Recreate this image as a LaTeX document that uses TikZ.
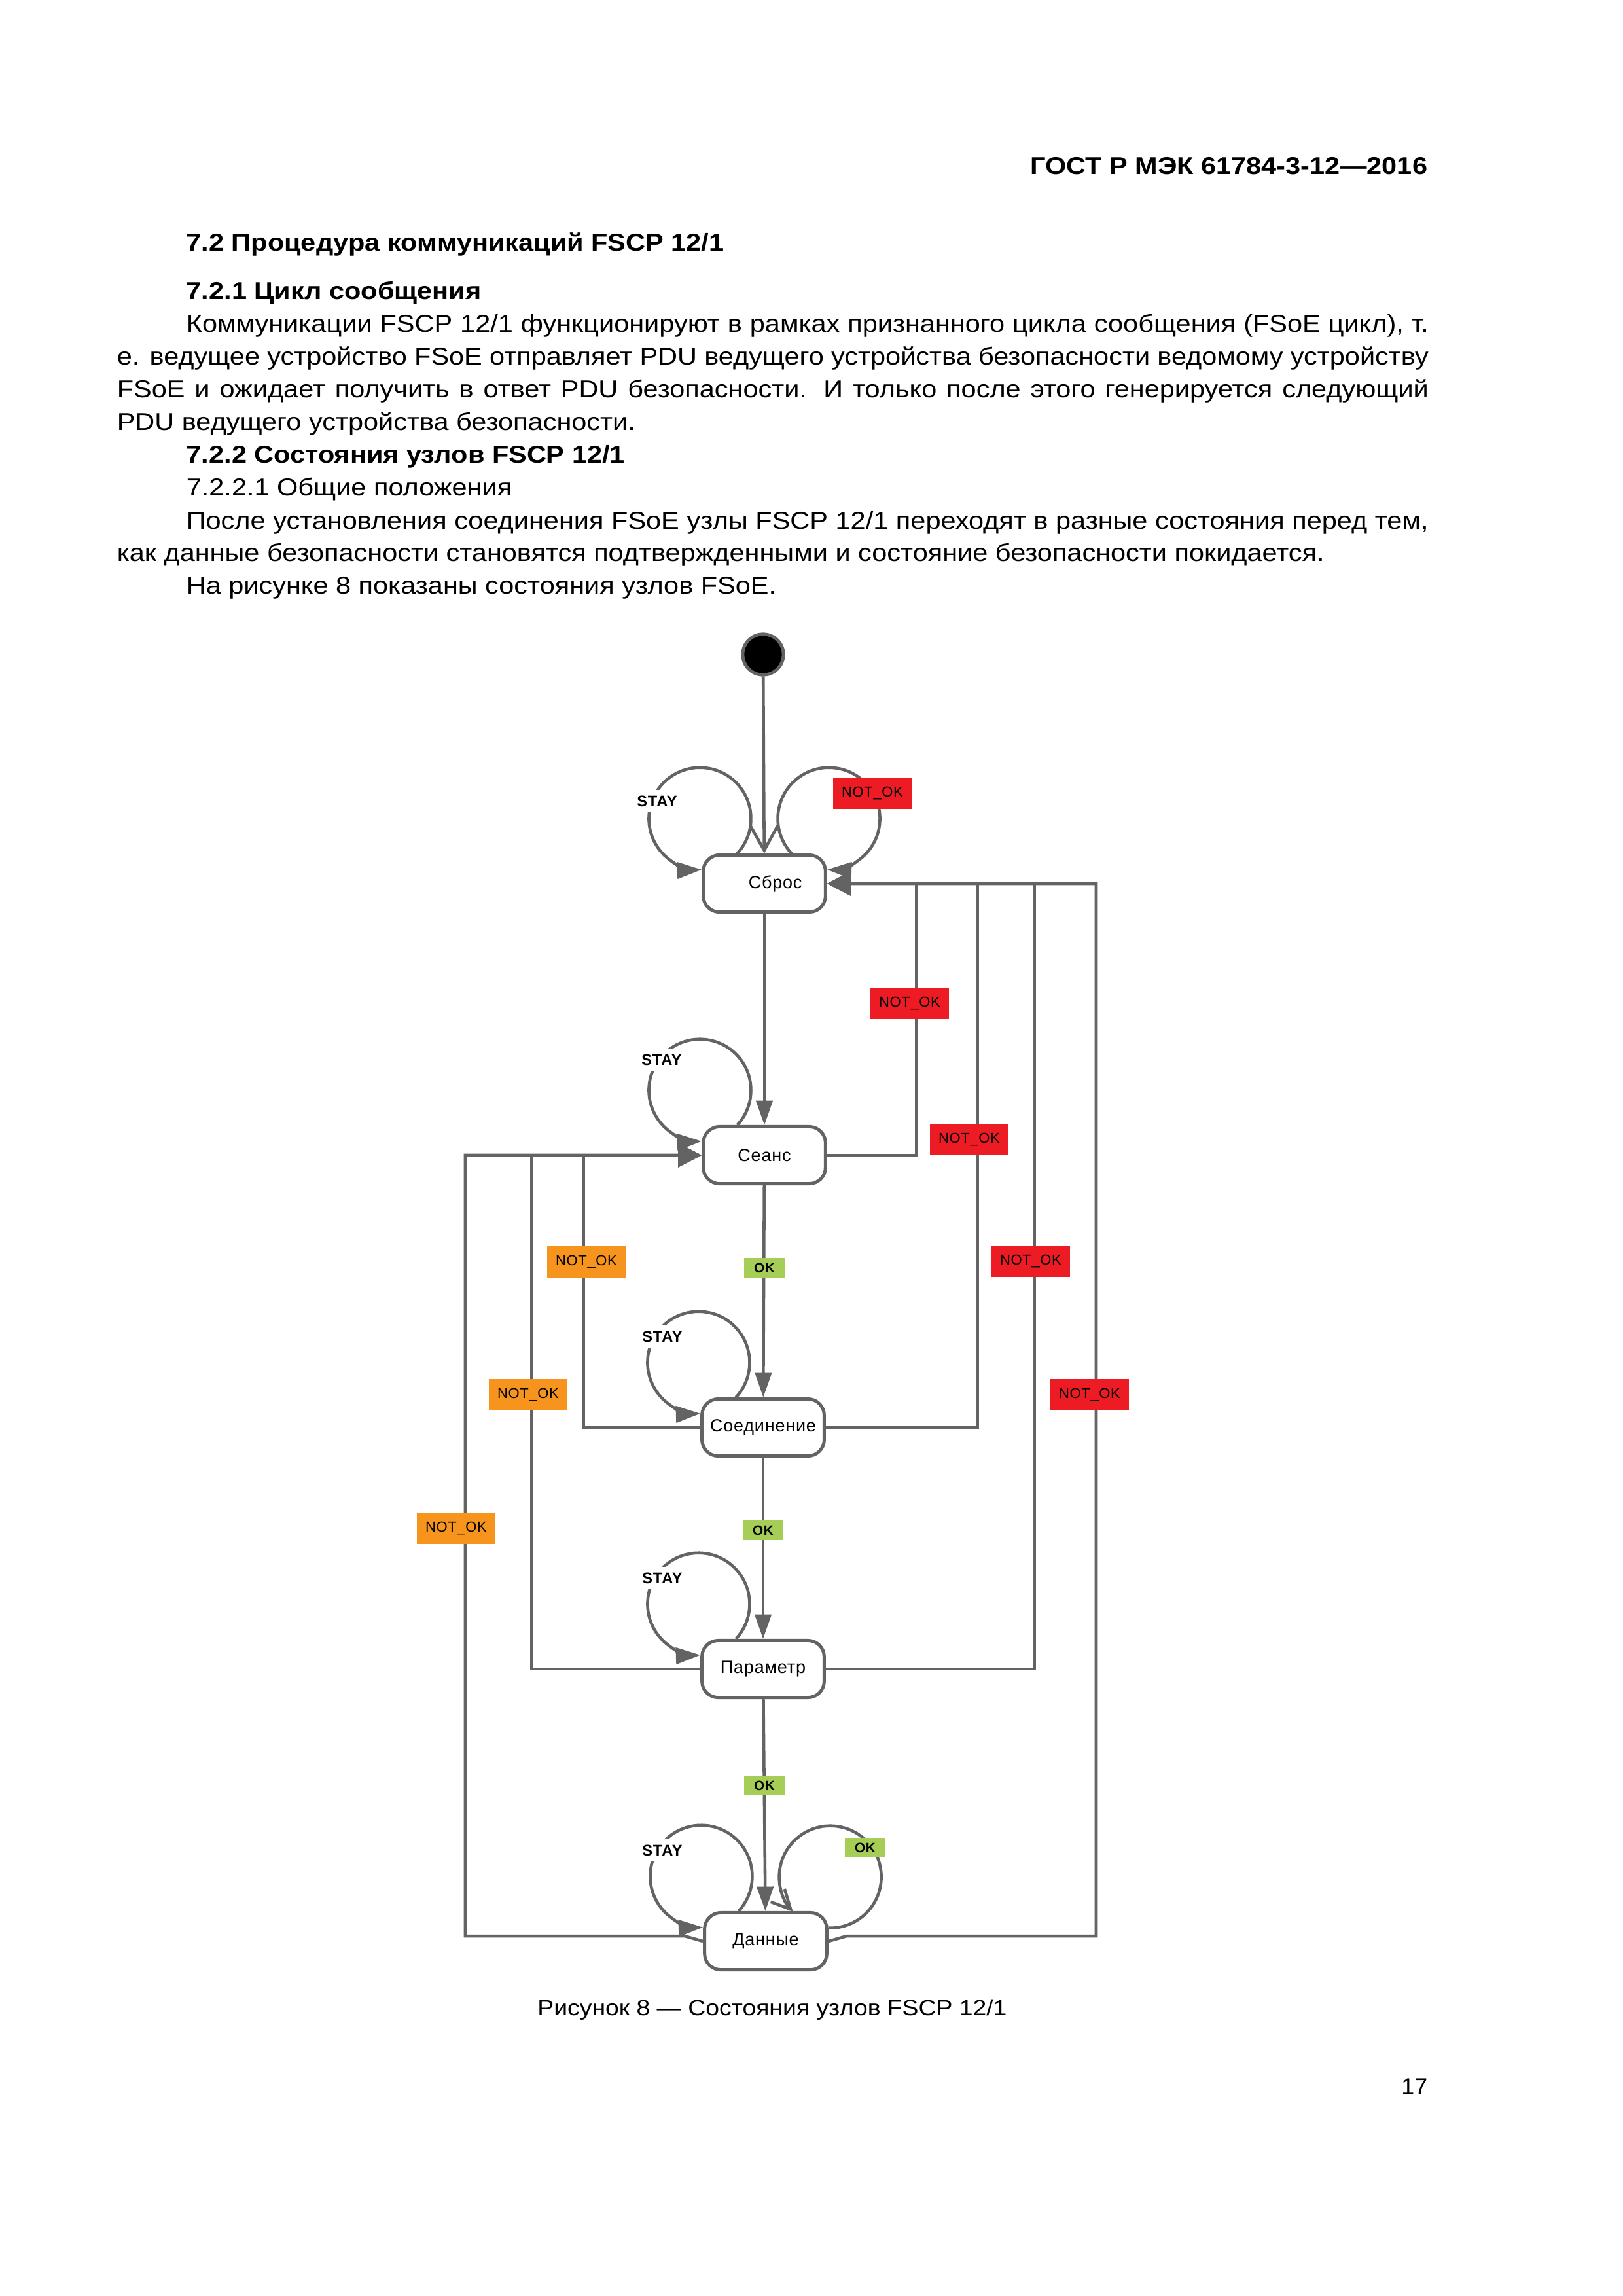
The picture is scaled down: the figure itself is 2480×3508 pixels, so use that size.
\documentclass[tikz,border=0pt]{standalone}
\usepackage{fontspec}
\setmainfont[FakeStretch=1.11]{Liberation Sans}
\newfontfamily\diagfont[LetterSpace=3]{Liberation Sans}
\newfontfamily\plainfont{Liberation Sans}
\usetikzlibrary{arrows.meta}
\definecolor{linegray}{RGB}{99,99,99}
\definecolor{notred}{RGB}{237,28,36}
\definecolor{notorange}{RGB}{247,148,29}
\definecolor{okgreen}{RGB}{166,206,87}
\begin{document}
\begin{tikzpicture}[x=0.0846667mm, y=-0.0846667mm,
  txt/.style={inner sep=0pt, anchor=base west, font=\fontsize{9}{12}\selectfont},
  stbox/.style={draw=linegray, line width=1.2pt, rounded corners=6pt, fill=white, minimum width=45pt, minimum height=21pt, inner sep=1pt, font=\diagfont\fontsize{6.5}{7}\selectfont},
  ln/.style={draw=linegray, line width=1.1pt},
  arr/.style={ln, -{Triangle[length=9pt,width=6pt]}},
  arrw/.style={ln, -{Triangle[length=8.7pt,width=8.7pt]}},
  barb/.style={ln, -{Straight Barb[length=9pt,width=10pt]}},
  smallbarb/.style={ln, -{Straight Barb[length=7pt,width=7pt]}},
  redlbl/.style={fill=notred, minimum width=28.7pt, minimum height=11.6pt, inner sep=0pt, font=\diagfont\fontsize{5.3}{6}\selectfont},
  orlbl/.style={redlbl, fill=notorange},
  oklbl/.style={fill=okgreen, minimum width=15pt, minimum height=7.2pt, inner sep=0pt, font=\diagfont\bfseries\fontsize{5}{6}\selectfont},
  staylbl/.style={fill=white, inner sep=2pt, font=\diagfont\bfseries\fontsize{5.7}{6}\selectfont}]
\useasboundingbox[fill=white] (0,0) rectangle (2480,3508);
\node[txt, anchor=base east, font=\bfseries\fontsize{9}{12}\selectfont] (hdr) at (2182,266) {ГОСТ Р МЭК 61784-3-12---2016};
\node[txt, font=\bfseries\fontsize{9}{12}\selectfont] (h72) at (284,383) {7.2 Процедура коммуникаций FSCP 12/1};
\node[txt, font=\bfseries\fontsize{9}{12}\selectfont] (h721) at (284,457) {7.2.1 Цикл сообщения};
\node[txt] (l1) at (284,507) {\makebox[457.2pt][s]{Коммуникации FSCP 12/1 функционируют в рамках признанного цикла сообщения (FSoE цикл), т.}};
\node[txt] (l2) at (178,557) {\makebox[482.8pt][s]{е. ведущее устройство FSoE отправляет PDU ведущего устройства безопасности ведомому устройству}};
\node[txt] (l3) at (178,607) {\makebox[482.8pt][s]{FSoE и ожидает получить в ответ PDU безопасности. И только после этого генерируется следующий}};
\node[txt] (l4) at (178,657) {PDU ведущего устройства безопасности.};
\node[txt, font=\bfseries\fontsize{9}{12}\selectfont] (h722) at (284,707) {7.2.2 Состояния узлов FSCP 12/1};
\node[txt] (h7221) at (284,757) {7.2.2.1 Общие положения};
\node[txt] (l5) at (284,808) {\makebox[457.2pt][s]{После установления соединения FSoE узлы FSCP 12/1 переходят в разные состояния перед тем,}};
\node[txt] (l6) at (178,857) {как данные безопасности становятся подтвержденными и состояние безопасности покидается.};
\node[txt] (l7) at (284,907) {На рисунке 8 показаны состояния узлов FSoE.};
\node[circle, draw=linegray, line width=1.2pt, fill=black, minimum size=15pt, inner sep=0pt] (init) at (1166,1000) {};
\node[stbox] (sbros) at (1168,1350) {\hspace*{8pt}Сброс};
\node[stbox] (seans) at (1168,1765) {Сеанс};
\node[stbox] (soed) at (1166,2181) {Соединение};
\node[stbox] (param) at (1166,2550) {Параметр};
\node[stbox] (dannye) at (1170,2966) {Данные};
\coordinate (r1) at (1400,1350);
\coordinate (r2) at (1494,1350);
\coordinate (r3) at (1581,1350);
\coordinate (r4) at (1675,1350);
\coordinate (q1) at (892,1765);
\coordinate (q2) at (812,1765);
\coordinate (q3) at (711,1765);
\draw[barb] (init) -- (sbros);
\draw[arr] (sbros) -- (seans);
\draw[arr] (seans) -- (soed);
\draw[arr] (soed) -- (param);
\draw[arr] (param) -- (dannye);
\draw[arrw] (seans.east) -| (r1) -- (sbros.east);
\draw[arrw] (soed.east) -| (r2) -- (sbros.east);
\draw[arrw] (param.east) -| (r3) -- (sbros.east);
\draw[arrw] (dannye.east) -- ++(28,-8) -| (r4) -- (sbros.east);
\draw[arrw] (soed.west) -| (q1) -- (seans.west);
\draw[arrw] (param.west) -| (q2) -- (seans.west);
\draw[arrw] (dannye.west) -- ++(-28,-8) -| (q3) -- (seans.west);
\draw[arr] (sbros.132) arc[start angle=43, end angle=-272, radius=78];
\draw[arr] (sbros.48) arc[start angle=137, end angle=452, radius=78];
\draw[arr] (seans.132) arc[start angle=43, end angle=-272, radius=78];
\draw[arr] (soed.132) arc[start angle=43, end angle=-272, radius=78];
\draw[arr] (param.132) arc[start angle=43, end angle=-272, radius=78];
\draw[arr] (dannye.132) arc[start angle=43, end angle=-272, radius=78];
\draw[smallbarb] (dannye.12) arc[start angle=452, end angle=137, radius=78];
\node[staylbl] (s1) at (1004,1224) {STAY};
\node[staylbl] (s2) at (1011,1619) {STAY};
\node[staylbl] (s3) at (1012,2042) {STAY};
\node[staylbl] (s4) at (1012,2411) {STAY};
\node[staylbl] (s5) at (1012,2827) {STAY};
\node[redlbl] (n0) at (1333,1212) {NOT\_OK};
\node[redlbl] (n1) at (1390,1533) {NOT\_OK};
\node[redlbl] (n2) at (1481,1741) {NOT\_OK};
\node[redlbl] (n3) at (1575,1927) {NOT\_OK};
\node[redlbl] (n4) at (1665,2131) {NOT\_OK};
\node[orlbl] (o1) at (896,1928) {NOT\_OK};
\node[orlbl] (o2) at (807,2131) {NOT\_OK};
\node[orlbl] (o3) at (697,2335) {NOT\_OK};
\node[oklbl] (k1) at (1168,1937) {OK};
\node[oklbl] (k2) at (1166,2338) {OK};
\node[oklbl] (k3) at (1168,2728) {OK};
\node[oklbl] (k4) at (1322,2823) {OK};
\node[txt, anchor=base, font=\fontsize{8.1}{10}\selectfont] (cap) at (1180,3079) {Рисунок 8 --- Состояния узлов FSCP 12/1};
\node[txt, anchor=base east, font=\plainfont\fontsize{8.6}{10}\selectfont] (pg) at (2182,3200) {17};
\end{tikzpicture}
\end{document}
